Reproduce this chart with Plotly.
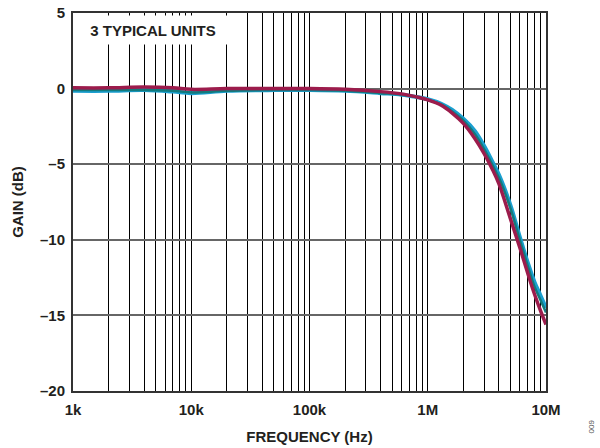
import plotly.graph_objects as go

freq = [1e3, 2e3, 4e3, 7e3, 1e4, 2e4, 5e4, 1e5, 2e5, 4e5, 6e5, 8e5, 1e6, 1.3e6, 1.6e6,
        2e6, 2.5e6, 3e6, 3.5e6, 4e6, 5e6, 6e6, 7e6, 8e6, 9e6, 1e7]

gain_cyan = [-0.15, -0.15, -0.1, -0.2, -0.3, -0.15, -0.1, -0.1, -0.15, -0.3, -0.4, -0.55, -0.7,
             -1.0, -1.4, -2.0, -2.8, -3.8, -4.8, -5.7, -7.7, -9.8, -11.5, -12.8, -13.7, -14.5]
gain_teal = [-0.1, -0.1, -0.1, -0.15, -0.25, -0.15, -0.1, -0.1, -0.15, -0.3, -0.4, -0.55, -0.75,
             -1.05, -1.5, -2.1, -3.0, -4.0, -5.0, -5.9, -7.9, -10.0, -11.7, -13.1, -14.0, -14.8]
gain_maroon = [0.05, 0.05, 0.1, 0.05, -0.05, 0.0, 0.0, 0.0, -0.05, -0.2, -0.35, -0.55, -0.75,
               -1.1, -1.6, -2.3, -3.3, -4.3, -5.3, -6.3, -8.6, -10.5, -12.2, -13.6, -14.7, -15.6]

x_grid_vals = [m * 10 ** e for e in range(3, 7) for m in range(1, 10)] + [1e7]
decade_labels = {1e3: "1k", 1e4: "10k", 1e5: "100k", 1e6: "1M", 1e7: "10M"}
x_tick_text = [decade_labels.get(v, "") for v in x_grid_vals]

y_tick_vals = [-20, -15, -10, -5, 0, 5]
y_tick_text = ["–20", "–15", "–10", "–5", "0", "5"]

FONT = "Arial, Liberation Sans, sans-serif"
FS = 15

fig = go.Figure()
fig.add_trace(go.Scatter(x=freq, y=gain_cyan, mode="lines",
                         line=dict(color="#1a9fd0", width=4, shape="spline"), showlegend=False))
fig.add_trace(go.Scatter(x=freq, y=gain_teal, mode="lines",
                         line=dict(color="#137a7c", width=2.5, shape="spline"), showlegend=False))
fig.add_trace(go.Scatter(x=freq, y=gain_maroon, mode="lines",
                         line=dict(color="#9c1c4c", width=3.5, shape="spline"), showlegend=False))

fig.update_layout(
    width=600, height=448,
    margin=dict(l=73, r=54, t=13, b=57, autoexpand=False),
    paper_bgcolor="white", plot_bgcolor="white",
    font=dict(family=FONT, color="#231f20", size=FS),
    xaxis=dict(
        type="log", range=[3, 7],
        tickmode="array", tickvals=x_grid_vals, ticktext=x_tick_text,
        showgrid=True, gridcolor="#000000", gridwidth=1.3,
        showline=True, linecolor="#333333", linewidth=2, mirror=True,
        ticks="", ticklabelstandoff=4,
        tickfont=dict(family=FONT, size=FS, weight="bold", color="#231f20"),
        title=dict(text="FREQUENCY (Hz)", font=dict(family=FONT, size=FS, weight="bold"), standoff=14),
        zeroline=False, automargin=False,
    ),
    yaxis=dict(
        range=[-20, 5],
        tickmode="array", tickvals=y_tick_vals, ticktext=y_tick_text,
        showgrid=True, gridcolor="#666666", gridwidth=1.5,
        showline=True, linecolor="#333333", linewidth=2, mirror=True,
        ticks="", ticklabelstandoff=3,
        tickfont=dict(family=FONT, size=FS, weight="bold", color="#231f20"),
        title=dict(text="GAIN (dB)", font=dict(family=FONT, size=FS, weight="bold"), standoff=13),
        zeroline=False, automargin=False,
    ),
    annotations=[
        dict(xref="paper", yref="paper", x=0, y=1, xanchor="left", yanchor="top",
             xshift=2, yshift=-2,
             text="3 TYPICAL UNITS", showarrow=False, bgcolor="white",
             width=150, height=24, borderpad=2, align="center",
             font=dict(family=FONT, size=FS, weight="bold", color="#231f20")),
        dict(xref="paper", yref="paper", x=1, y=0, xanchor="left", yanchor="top",
             xshift=38, yshift=-27, textangle=-90,
             text="009", showarrow=False,
             font=dict(family=FONT, size=8, color="#555555")),
    ],
)

fig.write_html("out.html", config={"displayModeBar": False},
               post_script="document.body.style.margin='0';")
